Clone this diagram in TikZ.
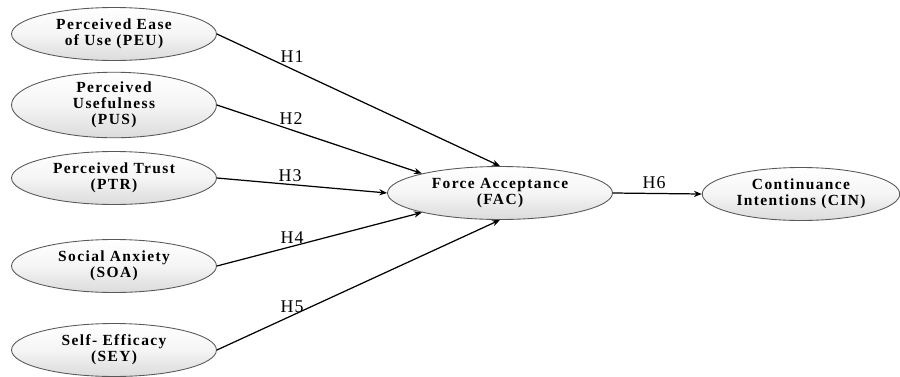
\documentclass[tikz,border=0pt]{standalone}
\usepackage{fontspec}
\setmainfont{Liberation Serif}
\newfontfamily\wideserif[LetterSpace=9]{Liberation Serif}
\newfontfamily\hypserif[LetterSpace=6]{Liberation Serif}
\usetikzlibrary{shapes.geometric,arrows.meta}

\begin{document}
\begin{tikzpicture}[x=0.02cm,y=-0.02cm,
    construct/.style={ellipse,draw=gray!70!black,line width=0.5pt,
        top color=white,bottom color=gray!28,middle color=gray!8,
        minimum width=4.1cm,minimum height=1.06cm,inner sep=0pt,align=center,
        font=\wideserif\bfseries\fontsize{8.8}{9.2}\selectfont},
    path/.style={-{Stealth[length=4.5pt,width=3.5pt]},line width=0.7pt},
    hyp/.style={font=\hypserif\fontsize{10.2}{10.5}\selectfont,inner sep=0pt}]
    \useasboundingbox (0,0) rectangle (900,376);

    % linke Spalte: Einflussfaktoren
    \node[construct] (peu) at (114,34) {Perceived Ease\\of Use (PEU)};
    \node[construct] (pus) at (114,105) {Perceived\\Usefulness\\(PUS)};
    \node[construct] (ptr) at (114,178) {Perceived Trust\\(PTR)};
    \node[construct] (soa) at (114,266) {Social Anxiety\\(SOA)};
    \node[construct] (sey) at (114,350) {Self- Efficacy\\(SEY)};

    % Mitte und rechts
    \node[construct,minimum width=4.5cm] (fac) at (500,193) {Force Acceptance\\(FAC)};
    \node[construct,minimum width=3.95cm] (cin) at (801,194) {Continuance\\Intentions (CIN)};

    % Hypothesen H1--H5
    \draw[path] (peu.east) -- (fac.north);
    \draw[path] (pus.east) -- (fac.166);
    \draw[path] (ptr.east) -- (fac.west);
    \draw[path] (soa.east) -- (fac.194);
    \draw[path] (sey.east) -- (fac.south);
    \node[hyp] (h1) at (292,57) {H1};
    \node[hyp] (h2) at (291,119) {H2};
    \node[hyp] (h3) at (290,176) {H3};
    \node[hyp] (h4) at (292,238) {H4};
    \node[hyp] (h5) at (292,307) {H5};

    % Hypothese H6
    \draw[path] (fac.east) -- (cin.west);
    \node[hyp] (h6) at (654,183) {H6};
\end{tikzpicture}
\end{document}
